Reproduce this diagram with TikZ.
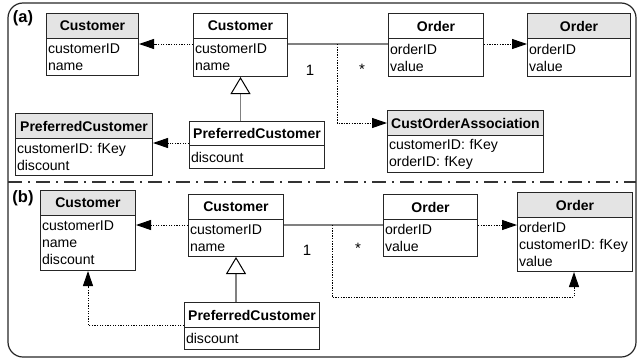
\documentclass[tikz,border=0pt]{standalone}
\usepackage{fontspec}
\setmainfont{Liberation Sans}
\usetikzlibrary{arrows.meta}
\definecolor{hdrgray}{HTML}{E4E4E4}
\definecolor{linegray}{HTML}{808080}

% #1 name, #2 left, #3 top, #4 right, #5 header bottom, #6 bottom,
% #7 header fill, #8 class name, #9 attributes
\newcommand\umlclass[9]{%
  \pgfmathsetmacro\ucW{#4-#2}%
  \pgfmathsetmacro\ucH{#5-#3}%
  \pgfmathsetmacro\ucB{#6-#5}%
  \pgfmathsetmacro\ucT{#4-#2-3}%
  \node[hdr, fill=#7, anchor=north west, minimum width=\ucW pt, minimum height=\ucH pt] (#1h) at (#2,#3) {#8};
  \node[attrs, anchor=north west, text width=\ucT pt, minimum height=\ucB pt] (#1b) at (#2,#5) {#9};
}

\begin{document}
\begin{tikzpicture}[x=1pt,y=-1pt,
  box/.style={draw=black!85, line width=1pt, inner sep=0pt},
  hdr/.style={box, font=\fontsize{14}{16}\selectfont\bfseries, align=center},
  attrs/.style={box, fill=white, font=\fontsize{14.1}{17}\selectfont, align=left, inner xsep=1.5pt, inner ysep=0pt},
  assoc/.style={draw=linegray, line width=1.3pt},
  dep/.style={line width=1pt, dash pattern=on 1.3pt off 1.3pt, -{Triangle[length=15pt,width=10pt]}},
  gen/.style={draw=linegray, line width=1.3pt, -{Triangle[open,length=17pt,width=20pt,fill=white,color=black,line width=1pt]}},
  mult/.style={font=\fontsize{15}{17}\selectfont, inner sep=0pt},
  tag/.style={font=\fontsize{16.5}{18}\selectfont\bfseries, inner sep=0pt},
]
\useasboundingbox (0,0) rectangle (639,359);

% outer frame and the separator between the two variants
\draw[rounded corners=15pt, line width=1.2pt, draw=black!85] (8,3) rectangle (636,357);
\draw[line width=2pt, draw=black!80, dash pattern=on 14pt off 6pt on 2pt off 6pt] (8,182) -- (636,182);

\node[tag] (tagA) at (23,18) {(a)};
\node[tag] (tagB) at (23,198) {(b)};

% ---------------- variant (a) ----------------
\umlclass{cga}{46}{13}{138}{38}{75}{hdrgray}{Customer}{customerID\\name}
\umlclass{cma}{193}{13}{287}{38}{76}{white}{Customer}{customerID\\name}
\umlclass{oma}{388}{13}{483}{38}{76}{white}{Order}{orderID\\value}
\umlclass{oga}{527}{13}{630}{38}{76}{hdrgray}{Order}{orderID\\value}
\umlclass{pga}{15}{113}{152}{138}{175}{hdrgray}{PreferredCustomer}{customerID: fKey\\discount}
\umlclass{pma}{189}{121}{324}{145}{168}{white}{PreferredCustomer}{discount}
\umlclass{coa}{387}{110}{543}{135}{172}{hdrgray}{CustOrderAssociation}{customerID: fKey\\orderID: fKey}

\coordinate (rA) at (0,44);
\coordinate (rA2) at (0,143);
\coordinate (jA) at (337,44);

\draw[assoc] (cmab.east |- rA) -- (omab.west |- rA);
\draw[dep] (cmab.west |- rA) -- (cgab.east |- rA);
\draw[dep] (omab.east |- rA) -- (ogab.west |- rA);
\draw[dep] (jA) |- (coah.west);
\draw[dep] (pmah.west |- rA2) -- (pgab.east |- rA2);
\draw[gen] (pmah.north -| cmab.south) -- (cmab.south);

\node[mult] (oneA) at (310,70) {1};
\node[mult] (manyA) at (362,69) {*};

% ---------------- variant (b) ----------------
\umlclass{cgb}{40}{190}{135}{215}{270}{hdrgray}{Customer}{customerID\\name\\discount}
\umlclass{cmb}{188}{194}{283}{219}{256}{white}{Customer}{customerID\\name}
\umlclass{omb}{383}{194}{477}{219}{256}{white}{Order}{orderID\\value}
\umlclass{ogb}{517}{192}{632}{217}{271}{hdrgray}{Order}{orderID\\customerID: fKey\\value}
\umlclass{pmb}{184}{302}{319}{327}{349}{white}{PreferredCustomer}{discount}

\coordinate (rB) at (0,225);
\coordinate (rB2) at (0,325);
\coordinate (jB) at (332,225);
\coordinate (cB) at (574,297);

\draw[assoc] (cmbb.east |- rB) -- (ombb.west |- rB);
\draw[dep] (cmbb.west |- rB) -- (cgbb.east |- rB);
\draw[dep] (ombb.east |- rB) -- (ogbb.west |- rB);
\draw[dep] (jB) |- (cB) -- (ogbb.south -| cB);
\draw[dep] (pmbh.west |- rB2) -| (cgbb.south);
\draw[gen] (pmbh.north -| cmbb.south) -- (cmbb.south);

\node[mult] (oneB) at (307,250) {1};
\node[mult] (manyB) at (358,248) {*};
\end{tikzpicture}
\end{document}
